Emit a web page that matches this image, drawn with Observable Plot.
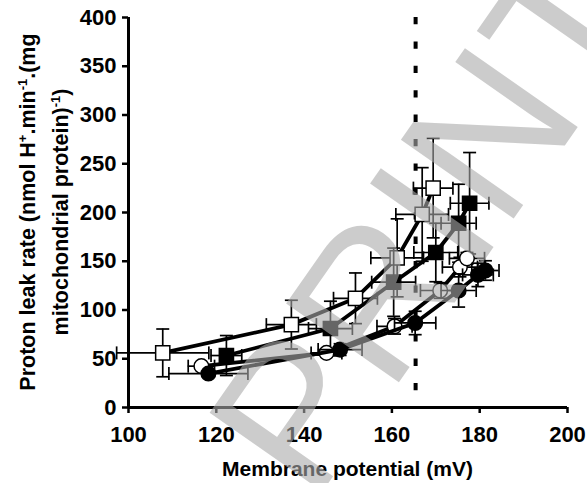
<!DOCTYPE html>
<html><head><meta charset="utf-8">
<script src="https://cdn.jsdelivr.net/npm/d3@7"></script>
<script src="https://cdn.jsdelivr.net/npm/@observablehq/plot@0.6"></script>
<style>
body{margin:0;background:#fff;}
#chart{position:relative;width:587px;height:483px;overflow:hidden;}
</style></head><body><div id="chart"></div>
<script>
// ---- data ----
const xTicks = [100, 120, 140, 160, 180, 200];
const yTicks = [0, 50, 100, 150, 200, 250, 300, 350, 400];
const thresholdX = [165.4];

const openSqX    = [107.8, 137.1, 151.7, 161.2, 166.9, 169.4];
const openSqY    = [56, 85, 112, 153.5, 198, 225];
const openSqXErr = [10.5, 5.7, 5, 6, 6, 4.5];
const openSqYErr = [24.5, 25, 26, 40, 48, 51];

const fillSqX    = [122.3, 146, 160.4, 170, 175.2, 177.7];
const fillSqY    = [53.3, 81, 128.5, 159, 189, 209.5];
const fillSqXErr = [3.5, 5, 5, 5, 4, 4.4];
const fillSqYErr = [20.5, 28, 35, 30, 40, 52];

const openCircX    = [116.6, 145.1, 160.6, 171, 175.5, 177.1];
const openCircY    = [42.4, 56, 83.3, 120, 144, 153];
const openCircXErr = [3, 3.5, 4, 4.5, 4, 4];
const openCircYErr = [3, 4, 8, 8, 10, 6];

const fillCircX    = [118.2, 148.2, 165.3, 175.2, 179.6, 181.3];
const fillCircY    = [34.8, 59.4, 86.7, 120, 136, 140.5];
const fillCircXErr = [9, 5, 4.7, 4, 3.5, 3.1];
const fillCircYErr = [3, 6, 12, 17, 12, 10];

const xLabel = "Membrane potential (mV)";
const yLabelLine1 = [["Proton leak rate (nmol H", false], ["+", true], [".min", false], ["-1", true], [".(mg", false]];
const yLabelLine2 = [["mitochondrial protein)", false], ["-1", true], [")", false]];
const watermark = "PRINT";

// ---- helpers ----
function rowsOf(xs, ys, xe, ye) { return xs.map((x, i) => ({x, y: ys[i], xe: xe[i], ye: ye[i]})); }
const capH = {draw(ctx, size) { const r = Math.sqrt(size / Math.PI); ctx.moveTo(-r, 0); ctx.lineTo(r, 0); }};
const capV = {draw(ctx, size) { const r = Math.sqrt(size / Math.PI); ctx.moveTo(0, -r); ctx.lineTo(0, r); }};

function seriesMarks(rows, symbol, fill, r) {
  const eb = {stroke: "black", strokeWidth: 1.7, fill: "none"};
  return [
    Plot.ruleX(rows, {x: "x", y1: d => d.y - d.ye, y2: d => d.y + d.ye, stroke: "black", strokeWidth: 1.7}),
    Plot.ruleY(rows, {y: "y", x1: d => d.x - d.xe, x2: d => d.x + d.xe, stroke: "black", strokeWidth: 1.7}),
    Plot.dot(rows, {x: "x", y: d => d.y + d.ye, symbol: capH, r: 6.5, ...eb}),
    Plot.dot(rows, {x: "x", y: d => d.y - d.ye, symbol: capH, r: 6.5, ...eb}),
    Plot.dot(rows, {x: d => d.x + d.xe, y: "y", symbol: capV, r: 6.5, ...eb}),
    Plot.dot(rows, {x: d => d.x - d.xe, y: "y", symbol: capV, r: 6.5, ...eb}),
    Plot.line(rows, {x: "x", y: "y", stroke: "black", strokeWidth: 3.8}),
    Plot.dot(rows, {x: "x", y: "y", symbol, r, fill, stroke: "black", strokeWidth: 1.5})
  ];
}

const yMin = d3.min(yTicks), yMax = d3.max(yTicks);
const xMin = d3.min(xTicks);

const W = 587, H = 483, mL = 128, mR = 20, mT = 17, mB = 76;

const svg = Plot.plot({
  width: W, height: H,
  marginLeft: mL, marginRight: mR, marginTop: mT, marginBottom: mB,
  x: {domain: [d3.min(xTicks), d3.max(xTicks)]},
  y: {domain: [yMin, yMax]},
  style: {fontFamily: "'Liberation Sans', Arial, sans-serif", fontSize: "22px", fontWeight: "bold", color: "black", background: "white", overflow: "hidden"},
  marks: [
    Plot.ruleX(thresholdX, {x: d => d, y1: () => yMax, y2: () => yMin, stroke: "black", strokeWidth: 4, strokeDasharray: "7.3,17.1"}),
    Plot.axisY(yTicks, {tickSize: 6, tickPadding: 6, label: null, stroke: "black", strokeWidth: 2.5, fontSize: 22, fontWeight: "bold", tickFormat: d => String(d)}),
    Plot.axisX(xTicks, {tickSize: 6, tickPadding: 13, label: null, stroke: "black", strokeWidth: 2.5, fontSize: 22, fontWeight: "bold", tickFormat: d => String(d)}),
    Plot.ruleX([xMin], {stroke: "black", strokeWidth: 3}),
    Plot.ruleY([yMin], {stroke: "black", strokeWidth: 3}),
    ...seriesMarks(rowsOf(openSqX, openSqY, openSqXErr, openSqYErr), "square", "white", 8),
    ...seriesMarks(rowsOf(fillSqX, fillSqY, fillSqXErr, fillSqYErr), "square", "black", 8),
    ...seriesMarks(rowsOf(openCircX, openCircY, openCircXErr, openCircYErr), "circle", "white", 7.3),
    ...seriesMarks(rowsOf(fillCircX, fillCircY, fillCircXErr, fillCircYErr), "circle", "black", 7.3)
  ]
});

const s = d3.select(svg);
const font = "'Liberation Sans', Arial, sans-serif";
// x label
s.append("text").attr("x", (mL + W - mR) / 2).attr("y", 476)
  .attr("text-anchor", "middle").attr("font-family", font).attr("font-size", 21).attr("font-weight", "bold")
  .attr("fill", "black").text(xLabel);
// y label (two lines, rotated)
function addYLine(parts, baselineX) {
  const t = s.append("text")
    .attr("transform", `translate(${baselineX},${(mT + H - mB) / 2}) rotate(-90)`)
    .attr("text-anchor", "middle").attr("font-family", font).attr("font-size", 21.5).attr("font-weight", "bold").attr("fill", "black");
  let up = false;
  parts.forEach(([txt, sup]) => {
    const ts = t.append("tspan").text(txt);
    if (sup && !up) { ts.attr("dy", -8).attr("font-size", 13); up = true; }
    else if (sup) { ts.attr("font-size", 13); }
    else if (!sup && up) { ts.attr("dy", 8); up = false; }
  });
}
addYLine(yLabelLine1, 35);
addYLine(yLabelLine2, 68);
// watermark overlay (decorative, cut by the page edges as in the reference)
s.append("text").attr("transform", "translate(313,505) rotate(-55)")
  .attr("text-anchor", "start")
  .attr("font-family", font).attr("font-size", 200).attr("font-weight", "normal")
  .attr("fill", "#aaaaaa").attr("fill-opacity", 0.6).text(watermark);

document.getElementById("chart").appendChild(svg);
</script>
</body></html>
